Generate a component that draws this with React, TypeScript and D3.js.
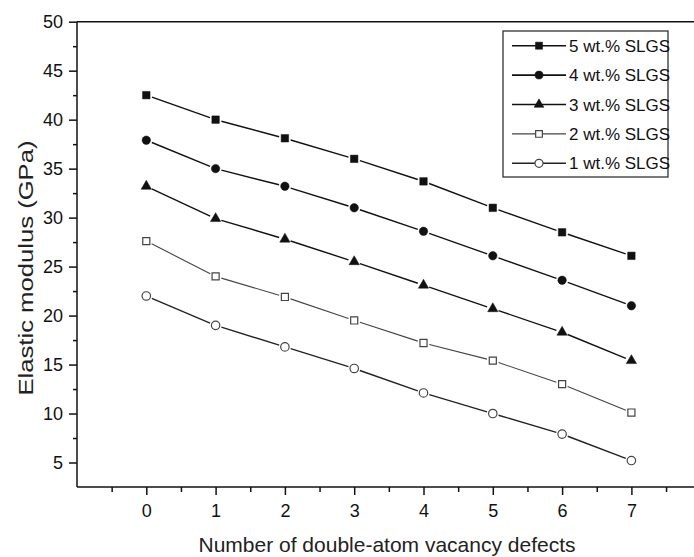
import * as d3 from 'd3';
import React, { useRef, useEffect } from 'react';

// defects count on x
const defects = [0, 1, 2, 3, 4, 5, 6, 7];

// elastic modulus (GPa) per filler content
const wt5 = [42.5, 40.0, 38.1, 36.0, 33.7, 31.0, 28.5, 26.1];
const wt4 = [37.9, 35.0, 33.2, 31.0, 28.6, 26.1, 23.6, 21.0];
const wt3 = [33.2, 29.9, 27.8, 25.5, 23.1, 20.7, 18.3, 15.4];
const wt2 = [27.6, 24.0, 21.9, 19.5, 17.2, 15.4, 13.0, 10.1];
const wt1 = [22.0, 19.0, 16.8, 14.6, 12.1, 10.0, 7.9, 5.2];

const seriesNames = ['5 wt.% SLGS', '4 wt.% SLGS', '3 wt.% SLGS', '2 wt.% SLGS', '1 wt.% SLGS'];
const yTicks = [5, 10, 15, 20, 25, 30, 35, 40, 45, 50];
const yMinorTicks = [7.5, 12.5, 17.5, 22.5, 27.5, 32.5, 37.5, 42.5, 47.5];
const xMinorTicks = [-0.5, 0.5, 1.5, 2.5, 3.5, 4.5, 5.5, 6.5, 7.5];

const FONT = 'Arial, "Liberation Sans", sans-serif';

function App() {
  const svgRef = useRef<SVGSVGElement>(null);
  const width = 694;
  const height = 557;

  useEffect(() => {
    document.body.style.margin = '0';
    const svg = d3.select(svgRef.current);
    svg.selectAll('*').remove();

    const left = 77;
    const top = 21.7;
    const bottom = 487;

    const x = d3.scaleLinear().domain([-1, 8]).range([left, left + 9 * 69.3]);
    const y = d3.scaleLinear().domain([2.5, 50]).range([bottom, top]);

    const series = [
      { name: seriesNames[0], values: wt5, shape: d3.symbolSquare, size: 56, open: false, color: '#111' },
      { name: seriesNames[1], values: wt4, shape: d3.symbolCircle, size: 56, open: false, color: '#111' },
      { name: seriesNames[2], values: wt3, shape: d3.symbolTriangle, size: 46, open: false, color: '#111' },
      { name: seriesNames[3], values: wt2, shape: d3.symbolSquare, size: 50, open: true, color: '#444' },
      { name: seriesNames[4], values: wt1, shape: d3.symbolCircle, size: 56, open: true, color: '#222' },
    ];

    // frame top line
    svg.append('line')
      .attr('x1', left).attr('x2', width)
      .attr('y1', top).attr('y2', top)
      .attr('stroke', '#111').attr('stroke-width', 1.5);

    // y axis
    const yAxis = d3.axisLeft(y).tickValues(yTicks).tickSize(8).tickSizeOuter(0).tickPadding(6);
    const gy = svg.append('g').attr('transform', `translate(${left},0)`).call(yAxis);
    gy.select('.domain').attr('stroke', '#111').attr('stroke-width', 1.5)
      .attr('d', `M0,${top}V${bottom}`);
    gy.selectAll('.tick line').attr('stroke', '#111').attr('stroke-width', 1.5);
    gy.selectAll('.tick text').attr('font-family', FONT).attr('font-size', 18).attr('fill', '#111');

    const yMinor = d3.axisLeft(y).tickValues(yMinorTicks).tickSize(4).tickFormat(() => '');
    const gym = svg.append('g').attr('transform', `translate(${left},0)`).call(yMinor);
    gym.select('.domain').remove();
    gym.selectAll('.tick line').attr('stroke', '#111').attr('stroke-width', 1.5);

    // x axis
    const xAxis = d3.axisBottom(x).tickValues(defects).tickSize(8).tickSizeOuter(0).tickPadding(9);
    const gx = svg.append('g').attr('transform', `translate(0,${bottom})`).call(xAxis);
    gx.select('.domain').attr('stroke', '#111').attr('stroke-width', 1.5)
      .attr('d', `M${left},0H${width}`);
    gx.selectAll('.tick line').attr('stroke', '#111').attr('stroke-width', 1.5);
    gx.selectAll('.tick text').attr('font-family', FONT).attr('font-size', 18).attr('fill', '#111');

    const xMinor = d3.axisBottom(x).tickValues(xMinorTicks).tickSize(5).tickFormat(() => '');
    const gxm = svg.append('g').attr('transform', `translate(0,${bottom})`).call(xMinor);
    gxm.select('.domain').remove();
    gxm.selectAll('.tick line').attr('stroke', '#111').attr('stroke-width', 1.5);

    // axis titles
    svg.append('text')
      .attr('x', 387).attr('y', 552)
      .attr('text-anchor', 'middle')
      .attr('font-family', FONT).attr('font-size', 21).attr('fill', '#222')
      .text('Number of double-atom vacancy defects');

    svg.append('text')
      .attr('transform', 'translate(33,268) rotate(-90)')
      .attr('text-anchor', 'middle')
      .attr('font-family', FONT).attr('font-size', 21).attr('fill', '#222')
      .attr('textLength', 255).attr('lengthAdjust', 'spacingAndGlyphs')
      .text('Elastic modulus (GPa)');

    // lines with small gaps at markers
    const gap = 6;
    series.forEach((s) => {
      const pts = s.values.map((v, i) => [x(defects[i]), y(v)]);
      const segs = d3.pairs(pts).map(([a, b]) => {
        const dx = b[0] - a[0];
        const dy = b[1] - a[1];
        const len = Math.hypot(dx, dy);
        const ux = dx / len;
        const uy = dy / len;
        return [a[0] + ux * gap, a[1] + uy * gap, b[0] - ux * gap, b[1] - uy * gap];
      });
      svg.append('g')
        .selectAll('line')
        .data(segs)
        .join('line')
        .attr('x1', (d) => d[0]).attr('y1', (d) => d[1])
        .attr('x2', (d) => d[2]).attr('y2', (d) => d[3])
        .attr('stroke', s.color)
        .attr('stroke-width', s.open && s.shape === d3.symbolSquare ? 1.1 : 1.4);

      svg.append('g')
        .selectAll('path')
        .data(pts)
        .join('path')
        .attr('transform', (d) => `translate(${d[0]},${d[1]})`)
        .attr('d', d3.symbol().type(s.shape).size(s.size)())
        .attr('fill', s.open ? '#fff' : '#111')
        .attr('stroke', s.open ? '#444' : '#111')
        .attr('stroke-width', s.open ? 1.2 : 0.5);
    });

    // legend
    const lgX = 503;
    const lgY = 31;
    svg.append('rect')
      .attr('x', lgX).attr('y', lgY)
      .attr('width', 165).attr('height', 146)
      .attr('fill', '#fff').attr('stroke', '#333').attr('stroke-width', 1.3);

    series.forEach((s, i) => {
      const cy = 45.7 + i * 29.4;
      const g = svg.append('g');
      g.append('line')
        .attr('x1', 512).attr('x2', 566)
        .attr('y1', cy).attr('y2', cy)
        .attr('stroke', s.color)
        .attr('stroke-width', s.open && s.shape === d3.symbolSquare ? 1.1 : 1.6);
      g.append('path')
        .attr('transform', `translate(539,${cy})`)
        .attr('d', d3.symbol().type(s.shape).size(s.size * 0.9)())
        .attr('fill', s.open ? '#fff' : '#111')
        .attr('stroke', s.open ? '#444' : '#111')
        .attr('stroke-width', s.open ? 1.2 : 0.5);
      g.append('text')
        .attr('x', 569).attr('y', cy + 6)
        .attr('font-family', FONT).attr('font-size', 17).attr('fill', '#111')
        .text(s.name);
    });
  }, []);

  return (
    <svg ref={svgRef} width={width} height={height} style={{ display: 'block', background: '#fff' }} />
  );
}

export default App;
